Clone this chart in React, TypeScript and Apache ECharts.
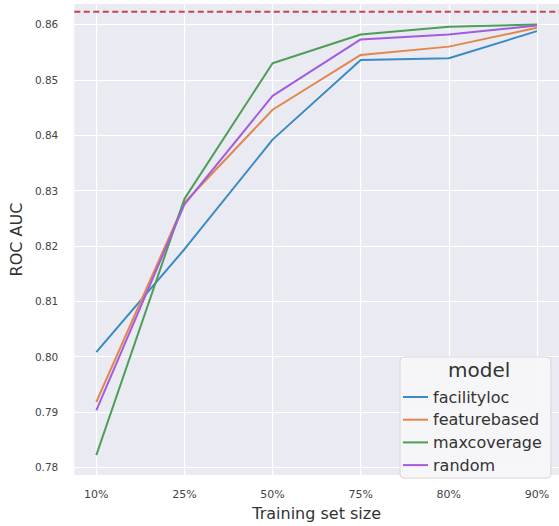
import React, { useEffect, useRef } from "react";
import * as echarts from "echarts";

const categories = ["10%", "25%", "50%", "75%", "80%", "90%"];
const facilityloc = [0.8008, 0.8194, 0.8392, 0.8536, 0.8539, 0.8588];
const featurebased = [0.7918, 0.8278, 0.8446, 0.8545, 0.856, 0.8594];
const maxcoverage = [0.7822, 0.8285, 0.853, 0.8582, 0.8596, 0.86];
const random = [0.7903, 0.8275, 0.8471, 0.8573, 0.8582, 0.8598];
const yTicks = [0.78, 0.79, 0.8, 0.81, 0.82, 0.83, 0.84, 0.85, 0.86];
const referenceLine = 0.8623;
const xRange = [-0.25, 5.25];

const seriesDefs = [
  { name: "facilityloc", data: facilityloc, color: "#3a8bc3" },
  { name: "featurebased", data: featurebased, color: "#e2874c" },
  { name: "maxcoverage", data: maxcoverage, color: "#4c9e58" },
  { name: "random", data: random, color: "#a25ce0" },
];

const FONT = "DejaVu Sans";

export default function App() {
  const ref = useRef<HTMLDivElement>(null);
  useEffect(() => {
    document.body.style.margin = "0";
    const chart = echarts.init(ref.current!, null, { renderer: "svg" });
    const xIdx = categories.map((_, i) => i);
    chart.setOption({
      animation: false,
      backgroundColor: "#ffffff",
      grid: { left: 70, top: 4, width: 492, height: 478, show: true, backgroundColor: "#eaeaf2", borderWidth: 0 },
      xAxis: {
        type: "value",
        min: xRange[0],
        max: xRange[1],
        name: "Training set size",
        nameLocation: "middle",
        nameGap: 28,
        nameTextStyle: { fontFamily: FONT, fontSize: 16, color: "#333" },
        axisLine: { show: false },
        axisTick: { show: false, customValues: xIdx },
        axisLabel: {
          customValues: xIdx,
          margin: 14,
          fontFamily: FONT,
          fontSize: 11,
          color: "#444",
          formatter: (v: number) => categories[Math.round(v)] ?? "",
        },
        splitLine: { show: true, lineStyle: { color: "#ffffff", width: 1.2 } },
      },
      yAxis: {
        type: "value",
        min: 0.7786,
        max: 0.8637,
        name: "ROC AUC",
        nameLocation: "middle",
        nameGap: 45,
        nameTextStyle: { fontFamily: FONT, fontSize: 16, color: "#333" },
        axisLine: { show: false },
        axisTick: { show: false, customValues: yTicks },
        axisLabel: {
          customValues: yTicks,
          margin: 16,
          fontFamily: FONT,
          fontSize: 10.5,
          color: "#444",
          formatter: (v: number) => v.toFixed(2),
        },
        splitLine: { show: true, lineStyle: { color: "#ffffff", width: 1.2 } },
      },
      legend: {
        orient: "vertical",
        left: 400,
        top: 357,
        padding: [30, 9, 3, 3],
        backgroundColor: "rgba(246,246,249,0.92)",
        borderColor: "#d6d6dc",
        borderWidth: 1,
        borderRadius: 4,
        icon: "rect",
        itemWidth: 25,
        itemHeight: 2,
        itemGap: 2.7,
        textStyle: { fontFamily: FONT, fontSize: 16, color: "#333", lineHeight: 20 },
        data: seriesDefs.map((s) => s.name),
      },
      graphic: [
        {
          type: "text",
          left: 448,
          top: 360,
          z: 100,
          style: { text: "model", fontFamily: FONT, fontSize: 20, fill: "#333", align: "left" },
        },
      ],
      series: [
        ...seriesDefs.map((s) => ({
          name: s.name,
          type: "line",
          data: s.data.map((v, i) => [i, v]),
          showSymbol: false,
          symbol: "none",
          color: s.color,
          lineStyle: { width: 2, color: s.color },
          z: 3,
        })),
        {
          name: "reference",
          type: "line",
          silent: true,
          symbol: "none",
          showSymbol: false,
          data: xRange.map((x) => [x, referenceLine]),
          lineStyle: { color: "#c0484c", width: 2, type: [6, 3.5] },
          color: "#c0484c",
          z: 2,
        },
      ],
    });
    return () => chart.dispose();
  }, []);
  return <div ref={ref} style={{ width: 559, height: 526 }} />;
}
